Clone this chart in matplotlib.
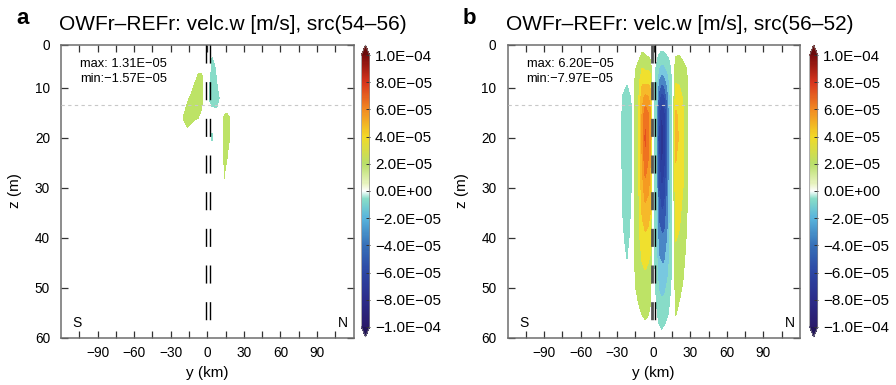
import numpy as np
import matplotlib
matplotlib.use("Agg")
import matplotlib.pyplot as plt
from matplotlib.colors import LinearSegmentedColormap, Normalize
from matplotlib.cm import ScalarMappable

plt.rcParams['font.family'] = ['Liberation Sans', 'DejaVu Sans']

# ---- data (w in units of 1E-05 m/s) ----
# panel a: rows are depth levels Z_A, columns are positions Y_A
Y_A = [-23, -19.5, -16.5, -13.5, -10.5, -7.5, -5, -2.5, 0, 2, 4, 6, 8, 10, 12, 14, 16, 18, 20.5, 24]
Z_A = [0, 2, 4, 6, 8, 10, 12, 14, 16, 18, 20, 22, 24, 26, 28, 30, 34, 60]
W_A = [
    [0, 0, 0, 0, 0, 0, 0, 0, 0, 0, 0, 0, 0, 0, 0, 0, 0, 0, 0, 0],
    [0, 0, 0, 0, 0.1, 0.2, 0.2, 0.1, 0, -0.2, -0.6, -0.3, -0.1, 0, 0, 0, 0, 0, 0, 0],
    [0, 0, 0, 0.1, 0.2, 0.5, 0.5, 0.2, -0.1, -0.4, -1.02, -0.7, -0.3, -0.1, 0, 0, 0, 0, 0, 0],
    [0, 0, 0.1, 0.2, 0.5, 0.85, 0.8, 0.4, -0.2, -0.6, -1.15, -1.1, -0.6, -0.2, 0, 0, 0, 0, 0, 0],
    [0, 0.1, 0.2, 0.5, 0.8, 1.1, 1.2, 0.8, -0.3, -0.85, -1.3, -1.3, -0.9, -0.4, -0.1, 0, 0, 0, 0, 0],
    [0, 0.2, 0.4, 0.7, 1.15, 1.25, 1.25, 0.8, -0.5, -1.05, -1.45, -1.45, -1.05, -0.6, -0.2, 0, 0, 0, 0, 0],
    [0.1, 0.4, 0.8, 1.15, 1.3, 1.3, 1.25, 0.8, -0.5, -1.1, -1.5, -1.57, -1.4, -0.95, -0.4, 0, 0, 0, 0, 0],
    [0.3, 0.7, 1.15, 1.25, 1.25, 1.15, 1.05, 0.6, -0.3, -0.7, -0.9, -0.95, -0.95, -0.7, 0.1, 0.7, 0.7, 0.4, 0.1, 0],
    [0.3, 1.05, 1.2, 1.15, 1.08, 1.0, 0.8, 0.3, -0.2, -0.5, -0.7, -0.5, -0.3, 0, 0.6, 1.15, 1.25, 1.05, 0.4, 0],
    [0.2, 0.8, 0.98, 0.9, 0.7, 0.6, 0.4, 0.1, -0.2, -0.6, -0.9, -0.6, -0.3, 0, 0.7, 1.25, 1.31, 1.1, 0.4, 0],
    [0, 0.3, 0.5, 0.4, 0.3, 0.2, 0.1, 0, -0.2, -0.8, -1.1, -0.8, -0.3, 0, 0.7, 1.25, 1.25, 1.05, 0.3, 0],
    [0, 0, 0.1, 0.1, 0.1, 0, 0, 0, -0.1, -0.4, -0.7, -0.4, -0.2, 0, 0.6, 1.2, 1.15, 0.9, 0.2, 0],
    [0, 0, 0, 0, 0, 0, 0, 0, 0, 0, 0, 0, 0, 0, 0.5, 1.12, 1.05, 0.7, 0.1, 0],
    [0, 0, 0, 0, 0, 0, 0, 0, 0, 0, 0, 0, 0, 0, 0.4, 1.06, 0.9, 0.5, 0.1, 0],
    [0, 0, 0, 0, 0, 0, 0, 0, 0, 0, 0, 0, 0, 0, 0.3, 1.01, 0.7, 0.3, 0, 0],
    [0, 0, 0, 0, 0, 0, 0, 0, 0, 0, 0, 0, 0, 0, 0.2, 0.8, 0.5, 0.2, 0, 0],
    [0, 0, 0, 0, 0, 0, 0, 0, 0, 0, 0, 0, 0, 0, 0.1, 0.4, 0.2, 0, 0, 0],
    [0, 0, 0, 0, 0, 0, 0, 0, 0, 0, 0, 0, 0, 0, 0, 0, 0, 0, 0, 0],
]

# panel b: one profile over Z_B for every position in Y_B
Y_B = [-29, -25.5, -22, -18.5, -15.5, -12.5, -9.5, -7, -4.5, -2.5, -1.5,
       1.5, 4, 6.5, 9, 12, 15, 18, 21, 24, 27.5, 31]
Z_B = [0, 3, 6, 9, 12, 15, 20, 25, 30, 35, 40, 45, 50, 55, 60]
W_B_COLS = [
    [0, 0, 0, 0, 0, 0, 0, 0, 0, 0, 0, 0, 0, 0, 0],
    [0, 0, -0.2, -0.6, -1.07, -1.2, -1.2, -1.2, -1.14, -1.0, -0.84, -0.64, -0.4, -0.2, 0],
    [0, 0, -0.3, -0.9, -1.6, -1.8, -1.8, -1.8, -1.7, -1.5, -1.25, -0.95, -0.6, -0.3, 0],
    [0, 0, -0.17, -0.52, -0.93, -1.04, -1.04, -1.04, -0.99, -0.87, -0.73, -0.55, -0.35, -0.17, 0],
    [0, 0.2, 0.8, 1.05, 1.1, 1.1, 1.1, 1.1, 1.1, 1.1, 1.08, 1.03, 0.9, 0.5, 0.2],
    [0, 0.5, 1.4, 1.7, 1.8, 1.8, 1.8, 1.8, 1.8, 1.75, 1.7, 1.5, 1.3, 0.8, 0.3],
    [0.3, 1.05, 2.0, 2.9, 3.7, 4.1, 4.3, 4.0, 3.6, 3.1, 2.5, 2.0, 1.55, 1.05, 0.5],
    [0.2, 0.9, 1.8, 2.9, 4.3, 5.6, 6.2, 5.6, 4.6, 3.6, 2.8, 2.15, 1.6, 1.15, 0.6],
    [0.1, 0.7, 1.8, 2.9, 4.1, 5.0, 5.3, 4.9, 4.2, 3.4, 2.6, 2.0, 1.5, 1.05, 0.5],
    [0, 0.5, 1.6, 2.6, 3.5, 4.0, 4.1, 3.8, 3.4, 2.9, 2.3, 1.8, 1.3, 0.8, 0.3],
    [0, 0, -0.2, -0.3, -0.3, -0.3, -0.3, -0.3, -0.3, -0.3, -0.3, -0.2, -0.1, 0, 0],
    [0, -0.4, -0.9, -1.15, -1.25, -1.27, -1.27, -1.27, -1.27, -1.27, -1.27, -1.2, -1.0, -0.6, -0.2],
    [-0.2, -0.9, -2.0, -3.3, -4.6, -5.6, -6.0, -5.7, -5.0, -4.3, -3.5, -2.8, -2.1, -1.3, -0.5],
    [-0.3, -1.1, -2.4, -4.0, -5.9, -7.2, -7.97, -7.3, -6.1, -5.0, -3.8, -3.0, -2.3, -1.55, -0.7],
    [-0.3, -1.0, -2.2, -3.6, -5.2, -6.2, -6.6, -6.3, -5.6, -4.7, -3.8, -3.0, -2.2, -1.4, -0.5],
    [-0.2, -0.7, -1.6, -2.5, -3.2, -3.6, -3.7, -3.6, -3.4, -3.1, -2.8, -2.3, -1.7, -1.0, -0.3],
    [0, -0.2, -0.6, -0.75, -0.8, -0.8, -0.8, -0.8, -0.8, -0.8, -0.8, -0.8, -0.6, -0.3, 0],
    [0, 0.8, 1.6, 2.0, 2.6, 3.1, 3.3, 3.0, 2.7, 2.4, 2.05, 1.7, 1.4, 1.05, 0.5],
    [0.1, 0.9, 1.5, 1.9, 2.4, 2.8, 2.9, 2.8, 2.5, 2.2, 1.9, 1.6, 1.2, 0.8, 0.3],
    [0, 0.6, 1.3, 1.6, 1.9, 2.1, 2.1, 2.1, 2.0, 1.7, 1.5, 1.2, 0.9, 0.5, 0.1],
    [0, 0.3, 0.9, 1.05, 1.1, 1.1, 1.1, 1.1, 1.1, 0.95, 0.8, 0.6, 0.4, 0.2, 0],
    [0, 0, 0, 0, 0, 0, 0, 0, 0, 0, 0, 0, 0, 0, 0],
]

TITLES = ["OWFr\u2013REFr: velc.w [m/s], src(54\u201356)",
          "OWFr\u2013REFr: velc.w [m/s], src(56\u201352)"]
LETTERS = ["a", "b"]
MAX_MIN = [("1.31E\u221205", "\u22121.57E\u221205"), ("6.20E\u221205", "\u22127.97E\u221205")]
Z_SURFACE = 13.4
# turbine row markers (km) for each panel
MARKERS = [(-0.8, 1.9), (-1.6, 1.05)]

# filled contour levels (1E-05) and their band colours
LEVELS = [-10, -9, -8, -7, -6, -5, -4, -3, -2, -1, 1, 2, 3, 4, 5, 6, 7, 8, 9, 10]
BAND_COLORS = ['#26186a', '#2a2a85', '#2b3592', '#2b3f9f', '#2d49a8', '#3358b0',
               '#4a86c6', '#78c8e0', '#88dcc8', 'none',
               '#bde366', '#f0e02e', '#f6b92a', '#f59a22', '#ef7320', '#e5501e',
               '#d6341c', '#bc1e18', '#8c0e10']

# continuous colour bar
CB_STOPS = [-10, -8, -6, -4, -2, -0.6, 0, 0.6, 2, 4, 6, 8, 10]
CB_COLORS = ['#2a1a6a', '#2c2d8a', '#2c46a4', '#3670b8', '#58b4dc', '#86dcc8',
             '#ffffff', '#e6f2bc', '#b9df6a', '#f2da26', '#f28a22', '#d8361e', '#7a0c0c']
CB_TICKS = [-10, -8, -6, -4, -2, 0, 2, 4, 6, 8, 10]

cmap_cb = LinearSegmentedColormap.from_list(
    'cb', [((s + 10) / 20, c) for s, c in zip(CB_STOPS, CB_COLORS)]
).with_extremes(over='#6a0a0a', under='#22145a')
norm = Normalize(-1e-4, 1e-4)

W, H = 896, 385
fig = plt.figure(figsize=(W / 100, H / 100), dpi=100)

panels = [
    (np.array(Y_A), np.array(Z_A), np.array(W_A)),
    (np.array(Y_B), np.array(Z_B), np.array(W_B_COLS).T),
]
ax_left = [61, 507.5]
cb_left = [361.5, 809.7]
spine_col = '#6e6e6e'

for i, (yy, zz, ww) in enumerate(panels):
    ax = fig.add_axes([ax_left[i] / W, 1 - 338 / H, 292.5 / W, 293 / H])
    ax.contourf(yy, zz, ww * 1e-5, levels=np.array(LEVELS) * 1e-5, colors=BAND_COLORS)

    ax.axhline(Z_SURFACE, color='#c8c8c8', lw=0.8, dashes=(3, 3), zorder=3)
    for k, ym in enumerate(MARKERS[i]):
        if i == 1 and k == 0:
            ax.plot([ym, ym], [1.4, 60], color='#555555', lw=2, dashes=(6.5, 6.7), zorder=4)
        else:
            ax.plot([ym, ym], [1.4, 60], color='black', lw=1, dashes=(13, 13.4), zorder=4)

    ax.set_xlim(-120, 120)
    ax.set_ylim(60, 1.4)
    ax.set_xticks([-90, -60, -30, 0, 30, 60, 90])
    ax.set_xticks([-105, -75, -45, -15, 15, 45, 75, 105], minor=True)
    ax.set_xticklabels(['\u221290', '\u221260', '\u221230', '0', '30', '60', '90'])
    ax.set_yticks([1.4, 10, 20, 30, 40, 50, 60])
    ax.set_yticklabels(['0', '10', '20', '30', '40', '50', '60'])
    ax.tick_params(which='both', direction='in', top=True, right=True,
                   length=5, width=0.9, color='#333333', labelsize=9.8)
    ax.tick_params(axis='x', which='major', pad=6)
    ax.tick_params(axis='y', pad=8)
    for s in ax.spines.values():
        s.set_color(spine_col)
        s.set_linewidth(1.1)

    ax.text(0.065, 0.926, 'max: ' + MAX_MIN[i][0], transform=ax.transAxes, fontsize=9.3)
    ax.text(0.065, 0.873, 'min:' + MAX_MIN[i][1], transform=ax.transAxes, fontsize=9.3)
    ax.text(0.055, 0.037, 'S', transform=ax.transAxes, fontsize=10, ha='center')
    ax.text(0.964, 0.037, 'N', transform=ax.transAxes, fontsize=10, ha='center')
    ax.text(0.5, -0.119, 'y (km)', transform=ax.transAxes, fontsize=11, ha='center', va='center')

    x0 = ax_left[i] - 46
    fig.text(x0 / W, 1 - 191 / H, 'z (m)', rotation=90, fontsize=11, ha='center', va='center')
    fig.text((ax_left[i] - 44.5) / W, 1 - 24.5 / H, LETTERS[i], fontsize=16,
             fontweight='bold', ha='left', va='baseline')
    fig.text((ax_left[i] - 2) / W, 1 - 29.5 / H, TITLES[i], fontsize=15,
             ha='left', va='baseline')

    cax = fig.add_axes([cb_left[i] / W, 1 - 337 / H, 8 / W, 292 / H])
    cb = fig.colorbar(ScalarMappable(norm=norm, cmap=cmap_cb), cax=cax,
                      extend='both', extendfrac=0.037)
    cb.set_ticks(np.array(CB_TICKS) * 1e-5)
    cb.set_ticklabels([f"{v * 1e-5:.1E}".replace('-', '\u2212') for v in CB_TICKS])
    cb.outline.set_edgecolor('#888888')
    cb.outline.set_linewidth(0.5)
    cax.tick_params(direction='in', length=3, width=0.7, color='#333333',
                    labelsize=11, pad=4)

fig.savefig('out.png', dpi=100)
